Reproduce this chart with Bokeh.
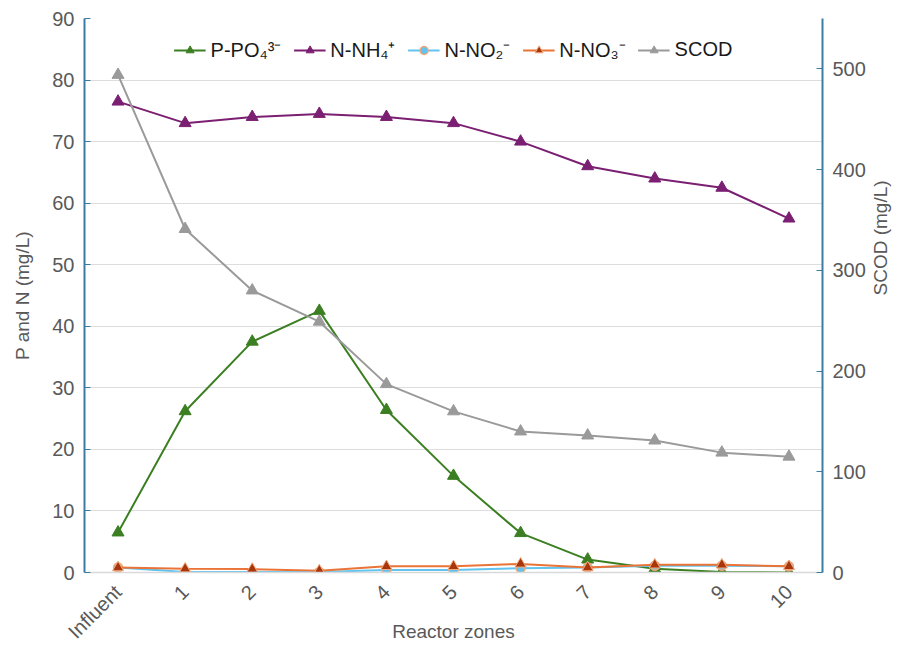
from bokeh.plotting import figure
from bokeh.models import (Range1d, LinearAxis, FixedTicker, Legend, LegendItem,
                          FactorRange, ColumnDataSource)
from bokeh.embed import file_html
from bokeh.resources import INLINE
import math

zones = ["Influent", "1", "2", "3", "4", "5", "6", "7", "8", "9", "10"]
p_po4 = [6.5, 26.2, 37.5, 42.5, 26.4, 15.7, 6.4, 2.1, 0.6, 0.1, 0.0]
n_nh4 = [76.5, 73.0, 74.0, 74.5, 74.0, 73.0, 70.0, 66.0, 64.0, 62.5, 57.5]
n_no2 = [0.8, 0.1, 0.1, 0.1, 0.4, 0.4, 0.7, 0.8, 1.1, 1.1, 1.0]
n_no3 = [0.8, 0.6, 0.55, 0.3, 1.0, 1.0, 1.4, 0.8, 1.25, 1.25, 1.0]
scod = [494, 341, 280, 249, 187, 160, 140, 136, 131, 119, 115]

left_ticks = [0, 10, 20, 30, 40, 50, 60, 70, 80, 90]
right_ticks = [0, 100, 200, 300, 400, 500]

FONT = "Liberation Sans"
AXIS_BLUE = "#3a7ca5"
TXT = "#595959"

src = ColumnDataSource(dict(x=zones, p=p_po4, nh=n_nh4, no2=n_no2, no3=n_no3, scod=scod))

p = figure(x_range=FactorRange(*zones), y_range=Range1d(0, 90),
           frame_width=738, frame_height=554,
           min_border_left=84, min_border_right=80, min_border_top=18, min_border_bottom=70,
           output_backend="svg", toolbar_location=None, outline_line_color=None)
p.extra_y_ranges = {"scod": Range1d(0, 550)}

# lines
r_p_l = p.line("x", "p", source=src, line_color="#3b7f22", line_width=2)
r_p_m = p.scatter("x", "p", source=src, marker="triangle", size=12, fill_color="#3b7f22", line_color="#3b7f22")
r_nh_l = p.line("x", "nh", source=src, line_color="#7b1f72", line_width=2)
r_nh_m = p.scatter("x", "nh", source=src, marker="triangle", size=12, fill_color="#7b1f72", line_color="#7b1f72")
r_sc_l = p.line("x", "scod", source=src, y_range_name="scod", line_color="#9a9a9a", line_width=2)
r_sc_m = p.scatter("x", "scod", source=src, y_range_name="scod", marker="triangle", size=12,
                   fill_color="#9a9a9a", line_color="#9a9a9a")
r_no2_l = p.line("x", "no2", source=src, line_color="#62c3ee", line_width=2)
r_no2_m = p.scatter("x", "no2", source=src, marker="circle", size=9, fill_color="#62c3ee",
                    line_color="#f2a77a", line_width=1.5)
r_no3_l = p.line("x", "no3", source=src, line_color="#ea7437", line_width=2)
r_no3_m = p.scatter("x", "no3", source=src, marker="triangle", size=11, fill_color="#a8360c",
                    line_color="#f2a77a", line_width=1)

# axes
p.yaxis.ticker = FixedTicker(ticks=left_ticks)
p.yaxis.axis_label = "P and N (mg/L)"
right = LinearAxis(y_range_name="scod", ticker=FixedTicker(ticks=right_ticks), axis_label="SCOD (mg/L)")
p.add_layout(right, "right")

for ax in [p.yaxis[0], right]:
    ax.axis_line_color = AXIS_BLUE
    ax.axis_line_width = 2
    ax.major_tick_line_color = AXIS_BLUE
    ax.major_tick_in = 6
    ax.major_tick_out = 0
    ax.minor_tick_line_color = None
    ax.major_label_text_font = FONT
    ax.major_label_text_font_size = "20px"
    ax.major_label_text_color = TXT
    ax.axis_label_text_font = FONT
    ax.axis_label_text_font_size = "19px"
    ax.axis_label_text_font_style = "normal"
    ax.axis_label_text_color = TXT
    ax.major_label_standoff = 10
p.yaxis[0].axis_label_standoff = 16
right.axis_label_standoff = 12
right.axis_label_orientation = math.pi / 2

xa = p.xaxis[0]
xa.axis_label = "Reactor zones"
xa.axis_line_color = "#d9d9d9"
xa.axis_line_width = 1.5
xa.major_tick_line_color = None
xa.major_label_orientation = math.pi / 4
xa.major_label_text_font = FONT
xa.major_label_text_font_size = "20px"
xa.major_label_text_color = TXT
xa.major_label_standoff = 10
xa.axis_label_text_font = FONT
xa.axis_label_text_font_size = "19px"
xa.axis_label_text_font_style = "normal"
xa.axis_label_text_color = TXT
xa.axis_label_standoff = -32

p.xgrid.grid_line_color = None
p.ygrid.grid_line_color = "#dddddd"
p.ygrid.grid_line_width = 1

legend = Legend(items=[
    LegendItem(label="P-PO₄³⁻", renderers=[r_p_l, r_p_m]),
    LegendItem(label="N-NH₄⁺", renderers=[r_nh_l, r_nh_m]),
    LegendItem(label="N-NO₂⁻", renderers=[r_no2_l, r_no2_m]),
    LegendItem(label="N-NO₃⁻", renderers=[r_no3_l, r_no3_m]),
    LegendItem(label="SCOD", renderers=[r_sc_l, r_sc_m]),
], orientation="horizontal", location="top_center")
legend.background_fill_alpha = 0
legend.border_line_color = None
legend.label_text_font = FONT
legend.label_text_font_size = "20px"
legend.label_text_color = "#1a1a1a"
legend.glyph_width = 32
legend.spacing = 12
legend.margin = 18
p.add_layout(legend)

open("out.html", "w").write(file_html(p, INLINE))
